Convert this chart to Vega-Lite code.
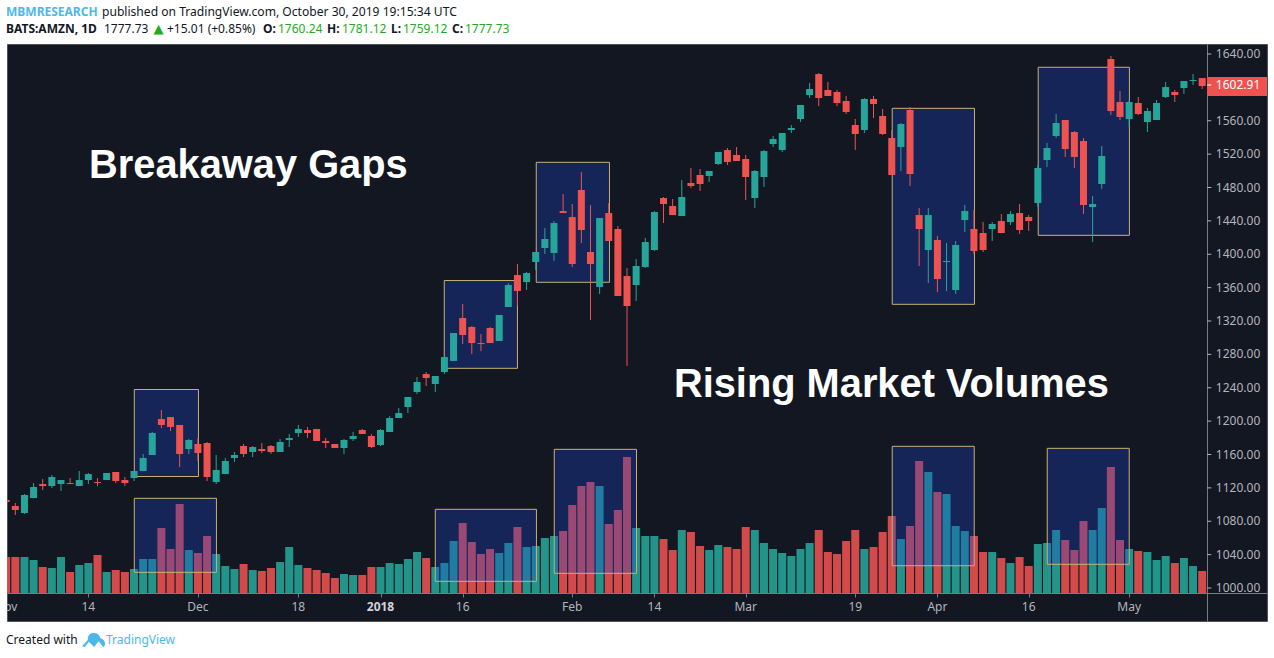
{
  "$schema": "https://vega.github.io/schema/vega-lite/v6.json",
  "width": 1260,
  "height": 577,
  "autosize": {"type": "none"},
  "padding": {"left": 7, "top": 44, "right": 7, "bottom": 37},
  "background": "#ffffff",
  "view": {"fill": "#131722", "stroke": "#50535e"},
  "config": {"scale": {"continuousPadding": 0}},
  "datasets": {
    "bars": [
      {"bar":0,"open":1105.5,"high":1105.5,"low":1103.1,"close":1103.1,"volume":3.63,"dir":"down"},
      {"bar":1,"open":1098.3,"high":1101.9,"low":1087.5,"close":1093.5,"volume":3.63,"dir":"down"},
      {"bar":2,"open":1089.9,"high":1112.7,"low":1088.7,"close":1111.5,"volume":3.63,"dir":"up"},
      {"bar":3,"open":1107.9,"high":1125.8,"low":1107.9,"close":1121.0,"volume":3.33,"dir":"up"},
      {"bar":4,"open":1124.6,"high":1130.6,"low":1117.5,"close":1122.2,"volume":2.63,"dir":"down"},
      {"bar":5,"open":1122.2,"high":1135.4,"low":1119.9,"close":1133.0,"volume":2.53,"dir":"up"},
      {"bar":6,"open":1124.6,"high":1129.4,"low":1116.3,"close":1129.4,"volume":3.63,"dir":"up"},
      {"bar":7,"open":1125.8,"high":1131.8,"low":1124.6,"close":1124.6,"volume":2.13,"dir":"down"},
      {"bar":8,"open":1122.2,"high":1140.2,"low":1122.2,"close":1129.4,"volume":2.83,"dir":"up"},
      {"bar":9,"open":1129.4,"high":1137.8,"low":1124.6,"close":1136.6,"volume":3.03,"dir":"up"},
      {"bar":10,"open":1127.0,"high":1131.8,"low":1122.2,"close":1125.8,"volume":3.83,"dir":"down"},
      {"bar":11,"open":1129.4,"high":1137.8,"low":1129.4,"close":1137.8,"volume":2.13,"dir":"up"},
      {"bar":12,"open":1139.0,"high":1139.0,"low":1125.8,"close":1128.2,"volume":2.33,"dir":"down"},
      {"bar":13,"open":1129.4,"high":1133.0,"low":1122.2,"close":1125.8,"volume":2.13,"dir":"down"},
      {"bar":14,"open":1131.8,"high":1140.2,"low":1128.2,"close":1140.2,"volume":2.43,"dir":"up"},
      {"bar":15,"open":1140.2,"high":1160.6,"low":1140.2,"close":1155.8,"volume":3.43,"dir":"up"},
      {"bar":16,"open":1159.4,"high":1187.0,"low":1159.4,"close":1185.8,"volume":3.43,"dir":"up"},
      {"bar":17,"open":1202.5,"high":1213.3,"low":1191.8,"close":1195.4,"volume":6.53,"dir":"down"},
      {"bar":18,"open":1204.9,"high":1204.9,"low":1188.2,"close":1193.0,"volume":4.43,"dir":"down"},
      {"bar":19,"open":1195.4,"high":1195.4,"low":1145.0,"close":1160.6,"volume":8.93,"dir":"down"},
      {"bar":20,"open":1166.6,"high":1178.6,"low":1160.6,"close":1177.4,"volume":4.33,"dir":"up"},
      {"bar":21,"open":1172.6,"high":1179.8,"low":1152.2,"close":1161.8,"volume":4.03,"dir":"down"},
      {"bar":22,"open":1173.8,"high":1175.0,"low":1128.2,"close":1133.0,"volume":5.73,"dir":"down"},
      {"bar":23,"open":1127.0,"high":1159.4,"low":1124.6,"close":1141.4,"volume":3.93,"dir":"up"},
      {"bar":24,"open":1136.6,"high":1155.8,"low":1136.6,"close":1152.2,"volume":2.73,"dir":"up"},
      {"bar":25,"open":1155.8,"high":1163.0,"low":1151.0,"close":1159.4,"volume":2.43,"dir":"up"},
      {"bar":26,"open":1170.2,"high":1172.6,"low":1157.0,"close":1160.6,"volume":2.93,"dir":"down"},
      {"bar":27,"open":1163.0,"high":1170.2,"low":1157.0,"close":1169.0,"volume":2.33,"dir":"up"},
      {"bar":28,"open":1166.6,"high":1173.8,"low":1161.8,"close":1164.2,"volume":2.23,"dir":"down"},
      {"bar":29,"open":1170.2,"high":1171.4,"low":1160.6,"close":1163.0,"volume":2.53,"dir":"down"},
      {"bar":30,"open":1163.0,"high":1178.6,"low":1163.0,"close":1175.0,"volume":3.13,"dir":"up"},
      {"bar":31,"open":1177.4,"high":1184.6,"low":1169.0,"close":1179.8,"volume":4.63,"dir":"up"},
      {"bar":32,"open":1185.8,"high":1195.4,"low":1181.0,"close":1190.6,"volume":2.83,"dir":"up"},
      {"bar":33,"open":1189.4,"high":1193.0,"low":1179.8,"close":1185.8,"volume":2.53,"dir":"down"},
      {"bar":34,"open":1190.6,"high":1190.6,"low":1176.2,"close":1176.2,"volume":2.33,"dir":"down"},
      {"bar":35,"open":1176.2,"high":1179.8,"low":1167.8,"close":1173.8,"volume":2.03,"dir":"down"},
      {"bar":36,"open":1172.6,"high":1172.6,"low":1167.8,"close":1167.8,"volume":1.53,"dir":"down"},
      {"bar":37,"open":1167.8,"high":1178.6,"low":1160.6,"close":1177.4,"volume":1.93,"dir":"up"},
      {"bar":38,"open":1178.6,"high":1187.0,"low":1176.2,"close":1182.2,"volume":1.83,"dir":"up"},
      {"bar":39,"open":1189.4,"high":1190.6,"low":1184.6,"close":1184.6,"volume":1.83,"dir":"down"},
      {"bar":40,"open":1182.2,"high":1184.6,"low":1167.8,"close":1169.0,"volume":2.63,"dir":"down"},
      {"bar":41,"open":1171.4,"high":1190.6,"low":1170.2,"close":1189.4,"volume":2.63,"dir":"up"},
      {"bar":42,"open":1187.0,"high":1206.1,"low":1187.0,"close":1203.7,"volume":3.03,"dir":"up"},
      {"bar":43,"open":1203.7,"high":1215.7,"low":1203.7,"close":1209.7,"volume":2.93,"dir":"up"},
      {"bar":44,"open":1216.9,"high":1228.9,"low":1209.7,"close":1228.9,"volume":3.43,"dir":"up"},
      {"bar":45,"open":1234.9,"high":1252.9,"low":1232.5,"close":1246.9,"volume":4.13,"dir":"up"},
      {"bar":46,"open":1256.5,"high":1258.9,"low":1242.1,"close":1251.7,"volume":3.53,"dir":"down"},
      {"bar":47,"open":1244.5,"high":1254.1,"low":1234.9,"close":1254.1,"volume":2.63,"dir":"up"},
      {"bar":48,"open":1258.9,"high":1276.8,"low":1256.5,"close":1276.8,"volume":3.03,"dir":"up"},
      {"bar":49,"open":1272.1,"high":1305.6,"low":1272.1,"close":1305.6,"volume":5.23,"dir":"up"},
      {"bar":50,"open":1323.6,"high":1340.4,"low":1292.4,"close":1303.2,"volume":7.03,"dir":"down"},
      {"bar":51,"open":1312.8,"high":1314.0,"low":1280.4,"close":1293.6,"volume":5.13,"dir":"down"},
      {"bar":52,"open":1293.6,"high":1304.4,"low":1284.0,"close":1292.4,"volume":3.93,"dir":"down"},
      {"bar":53,"open":1311.6,"high":1312.8,"low":1293.6,"close":1293.6,"volume":4.43,"dir":"down"},
      {"bar":54,"open":1296.0,"high":1327.2,"low":1296.0,"close":1327.2,"volume":4.03,"dir":"up"},
      {"bar":55,"open":1336.8,"high":1365.5,"low":1336.8,"close":1363.1,"volume":5.03,"dir":"up"},
      {"bar":56,"open":1375.1,"high":1388.3,"low":1338.0,"close":1356.0,"volume":6.63,"dir":"down"},
      {"bar":57,"open":1366.7,"high":1378.7,"low":1357.2,"close":1377.5,"volume":4.63,"dir":"up"},
      {"bar":58,"open":1390.7,"high":1402.7,"low":1381.1,"close":1402.7,"volume":4.73,"dir":"up"},
      {"bar":59,"open":1407.5,"high":1431.5,"low":1400.3,"close":1418.3,"volume":5.53,"dir":"up"},
      {"bar":60,"open":1401.5,"high":1439.8,"low":1391.9,"close":1437.4,"volume":5.73,"dir":"up"},
      {"bar":61,"open":1451.8,"high":1472.2,"low":1449.4,"close":1449.4,"volume":6.23,"dir":"down"},
      {"bar":62,"open":1444.6,"high":1460.2,"low":1384.7,"close":1388.3,"volume":8.83,"dir":"down"},
      {"bar":63,"open":1477.0,"high":1498.6,"low":1413.5,"close":1429.1,"volume":10.73,"dir":"down"},
      {"bar":64,"open":1402.7,"high":1459.0,"low":1321.2,"close":1388.3,"volume":11.13,"dir":"down"},
      {"bar":65,"open":1360.8,"high":1443.4,"low":1352.4,"close":1443.4,"volume":10.73,"dir":"up"},
      {"bar":66,"open":1449.4,"high":1461.4,"low":1415.9,"close":1415.9,"volume":6.93,"dir":"down"},
      {"bar":67,"open":1430.3,"high":1433.9,"low":1350.0,"close":1350.0,"volume":8.33,"dir":"down"},
      {"bar":68,"open":1373.9,"high":1383.5,"low":1266.1,"close":1338.0,"volume":13.63,"dir":"down"},
      {"bar":69,"open":1363.1,"high":1394.3,"low":1344.0,"close":1385.9,"volume":6.53,"dir":"up"},
      {"bar":70,"open":1384.7,"high":1419.5,"low":1383.5,"close":1414.7,"volume":5.73,"dir":"up"},
      {"bar":71,"open":1405.1,"high":1451.8,"low":1403.9,"close":1450.6,"volume":5.73,"dir":"up"},
      {"bar":72,"open":1467.4,"high":1468.6,"low":1437.4,"close":1460.2,"volume":5.43,"dir":"down"},
      {"bar":73,"open":1457.8,"high":1466.2,"low":1447.0,"close":1447.0,"volume":4.33,"dir":"down"},
      {"bar":74,"open":1445.8,"high":1489.0,"low":1445.8,"close":1468.6,"volume":6.33,"dir":"up"},
      {"bar":75,"open":1485.4,"high":1503.4,"low":1479.4,"close":1481.8,"volume":6.13,"dir":"down"},
      {"bar":76,"open":1495.0,"high":1502.2,"low":1475.8,"close":1484.2,"volume":4.73,"dir":"down"},
      {"bar":77,"open":1493.8,"high":1499.8,"low":1486.6,"close":1499.8,"volume":4.33,"dir":"up"},
      {"bar":78,"open":1508.2,"high":1522.5,"low":1507.0,"close":1522.5,"volume":4.83,"dir":"up"},
      {"bar":79,"open":1524.9,"high":1527.3,"low":1507.0,"close":1510.6,"volume":4.63,"dir":"down"},
      {"bar":80,"open":1519.0,"high":1528.5,"low":1511.8,"close":1511.8,"volume":4.43,"dir":"down"},
      {"bar":81,"open":1514.2,"high":1519.0,"low":1465.0,"close":1492.6,"volume":6.63,"dir":"down"},
      {"bar":82,"open":1467.4,"high":1501.0,"low":1455.4,"close":1499.8,"volume":6.33,"dir":"up"},
      {"bar":83,"open":1492.6,"high":1524.9,"low":1480.6,"close":1523.7,"volume":5.03,"dir":"up"},
      {"bar":84,"open":1532.1,"high":1541.7,"low":1528.5,"close":1538.1,"volume":4.43,"dir":"up"},
      {"bar":85,"open":1524.9,"high":1545.3,"low":1522.5,"close":1545.3,"volume":4.03,"dir":"up"},
      {"bar":86,"open":1548.9,"high":1554.9,"low":1545.3,"close":1551.3,"volume":3.73,"dir":"up"},
      {"bar":87,"open":1562.1,"high":1578.9,"low":1558.5,"close":1578.9,"volume":4.43,"dir":"up"},
      {"bar":88,"open":1590.9,"high":1605.2,"low":1587.3,"close":1598.1,"volume":5.03,"dir":"up"},
      {"bar":89,"open":1616.0,"high":1617.2,"low":1577.7,"close":1587.3,"volume":6.33,"dir":"down"},
      {"bar":90,"open":1596.9,"high":1606.4,"low":1589.7,"close":1589.7,"volume":4.13,"dir":"down"},
      {"bar":91,"open":1594.5,"high":1596.9,"low":1577.7,"close":1581.3,"volume":3.93,"dir":"down"},
      {"bar":92,"open":1583.7,"high":1589.7,"low":1568.1,"close":1570.5,"volume":5.23,"dir":"down"},
      {"bar":93,"open":1554.9,"high":1562.1,"low":1524.9,"close":1544.1,"volume":6.33,"dir":"down"},
      {"bar":94,"open":1548.9,"high":1587.3,"low":1545.3,"close":1586.1,"volume":4.43,"dir":"up"},
      {"bar":95,"open":1586.1,"high":1589.7,"low":1563.3,"close":1580.1,"volume":4.63,"dir":"down"},
      {"bar":96,"open":1565.7,"high":1574.1,"low":1542.9,"close":1544.1,"volume":6.13,"dir":"down"},
      {"bar":97,"open":1539.3,"high":1548.9,"low":1495.0,"close":1495.0,"volume":7.73,"dir":"down"},
      {"bar":98,"open":1528.5,"high":1557.3,"low":1499.8,"close":1556.1,"volume":5.43,"dir":"up"},
      {"bar":99,"open":1572.9,"high":1576.5,"low":1481.8,"close":1496.2,"volume":6.73,"dir":"down"},
      {"bar":100,"open":1447.0,"high":1455.4,"low":1385.9,"close":1430.3,"volume":13.23,"dir":"down"},
      {"bar":101,"open":1405.1,"high":1455.4,"low":1365.5,"close":1447.0,"volume":12.13,"dir":"up"},
      {"bar":102,"open":1417.1,"high":1421.9,"low":1354.8,"close":1370.3,"volume":10.13,"dir":"down"},
      {"bar":103,"open":1390.7,"high":1413.5,"low":1356.0,"close":1391.9,"volume":9.93,"dir":"up"},
      {"bar":104,"open":1357.2,"high":1415.9,"low":1352.4,"close":1411.1,"volume":6.73,"dir":"up"},
      {"bar":105,"open":1441.0,"high":1459.0,"low":1426.7,"close":1451.8,"volume":6.23,"dir":"up"},
      {"bar":106,"open":1430.3,"high":1453.0,"low":1400.3,"close":1403.9,"volume":5.73,"dir":"down"},
      {"bar":107,"open":1425.5,"high":1438.6,"low":1402.7,"close":1405.1,"volume":4.13,"dir":"down"},
      {"bar":108,"open":1430.3,"high":1438.6,"low":1415.9,"close":1436.3,"volume":4.13,"dir":"up"},
      {"bar":109,"open":1439.8,"high":1448.2,"low":1425.5,"close":1425.5,"volume":3.53,"dir":"down"},
      {"bar":110,"open":1438.6,"high":1451.8,"low":1435.1,"close":1448.2,"volume":3.03,"dir":"up"},
      {"bar":111,"open":1449.4,"high":1460.2,"low":1424.3,"close":1429.1,"volume":3.63,"dir":"down"},
      {"bar":112,"open":1444.6,"high":1447.0,"low":1427.9,"close":1439.8,"volume":2.73,"dir":"down"},
      {"bar":113,"open":1461.4,"high":1507.0,"low":1456.6,"close":1503.4,"volume":4.93,"dir":"up"},
      {"bar":114,"open":1513.0,"high":1533.3,"low":1504.6,"close":1527.3,"volume":5.03,"dir":"up"},
      {"bar":115,"open":1541.7,"high":1568.1,"low":1539.3,"close":1557.3,"volume":6.33,"dir":"up"},
      {"bar":116,"open":1560.9,"high":1560.9,"low":1516.6,"close":1526.1,"volume":5.33,"dir":"down"},
      {"bar":117,"open":1546.5,"high":1547.7,"low":1503.4,"close":1516.6,"volume":4.33,"dir":"down"},
      {"bar":118,"open":1535.7,"high":1539.3,"low":1448.2,"close":1459.0,"volume":7.23,"dir":"down"},
      {"bar":119,"open":1456.6,"high":1469.8,"low":1414.7,"close":1460.2,"volume":6.33,"dir":"up"},
      {"bar":120,"open":1484.2,"high":1529.7,"low":1478.2,"close":1517.8,"volume":8.53,"dir":"up"},
      {"bar":121,"open":1634.0,"high":1637.6,"low":1566.9,"close":1571.7,"volume":12.63,"dir":"down"},
      {"bar":122,"open":1582.5,"high":1595.7,"low":1560.9,"close":1564.5,"volume":5.33,"dir":"down"},
      {"bar":123,"open":1562.1,"high":1584.9,"low":1552.5,"close":1582.5,"volume":4.43,"dir":"up"},
      {"bar":124,"open":1581.3,"high":1588.5,"low":1566.9,"close":1568.1,"volume":4.23,"dir":"down"},
      {"bar":125,"open":1558.5,"high":1575.3,"low":1546.5,"close":1571.7,"volume":4.13,"dir":"up"},
      {"bar":126,"open":1560.9,"high":1584.9,"low":1560.9,"close":1581.3,"volume":3.33,"dir":"up"},
      {"bar":127,"open":1588.5,"high":1606.4,"low":1587.3,"close":1600.4,"volume":3.73,"dir":"up"},
      {"bar":128,"open":1594.5,"high":1596.9,"low":1582.5,"close":1590.9,"volume":3.03,"dir":"down"},
      {"bar":129,"open":1599.3,"high":1607.6,"low":1592.1,"close":1607.6,"volume":3.53,"dir":"up"},
      {"bar":130,"open":1607.6,"high":1616.0,"low":1602.8,"close":1608.8,"volume":2.73,"dir":"up"},
      {"bar":131,"open":1611.2,"high":1611.2,"low":1598.1,"close":1601.6,"volume":2.23,"dir":"down"}
    ],
    "zones": [
      {"start":14.03,"end":21.06,"top":1237.9,"bottom":1133.6},
      {"start":47.98,"end":56.0,"top":1368.5,"bottom":1263.3},
      {"start":58.06,"end":66.08,"top":1510.2,"bottom":1366.4},
      {"start":97.05,"end":106.06,"top":1574.9,"bottom":1340.0},
      {"start":113.04,"end":123.03,"top":1624.1,"bottom":1422.7},
      {"start":14.03,"end":23.03,"top":1107.5,"bottom":1018.8},
      {"start":47.0,"end":58.08,"top":1094.3,"bottom":1008.0},
      {"start":60.03,"end":69.04,"top":1166.2,"bottom":1017.6},
      {"start":97.05,"end":106.03,"top":1169.8,"bottom":1026.7},
      {"start":114.03,"end":123.01,"top":1167.4,"bottom":1028.4}
    ],
    "dates": [
      {"bar":0,"label":"Nov"},
      {"bar":9,"label":"14"},
      {"bar":21,"label":"Dec"},
      {"bar":32,"label":"18"},
      {"bar":50,"label":"16"},
      {"bar":62,"label":"Feb"},
      {"bar":71,"label":"14"},
      {"bar":81,"label":"Mar"},
      {"bar":93,"label":"19"},
      {"bar":102,"label":"Apr"},
      {"bar":112,"label":"16"},
      {"bar":123,"label":"May"}
    ],
    "levels": [
      {"price":1000},{"price":1040},{"price":1080},{"price":1120},{"price":1160},{"price":1200},
      {"price":1240},{"price":1280},{"price":1320},{"price":1360},{"price":1400},{"price":1440},
      {"price":1480},{"price":1520},{"price":1560},{"price":1600},{"price":1640}
    ]
  },
  "layer": [
    {
      "data": {"name": "bars"},
      "mark": {"type": "bar", "size": 8, "opacity": 0.87, "clip": true},
      "encoding": {
        "x": {
          "field": "bar",
          "type": "quantitative",
          "scale": {"domain": [0.088, 138.1], "nice": false, "zero": false, "padding": 0},
          "axis": {
            "orient": "bottom",
            "offset": -28,
            "values": [9, 21, 32, 41, 50, 62, 71, 81, 93, 102, 112, 123],
            "labels": false,
            "grid": false,
            "title": null,
            "tickSize": 4,
            "tickColor": "#787b86",
            "domainColor": "#787b86",
            "zindex": 1
          }
        },
        "y": {
          "field": "volume",
          "type": "quantitative",
          "stack": null,
          "scale": {"domain": [-2.77, 54.93], "nice": false, "zero": false},
          "axis": null
        },
        "y2": {"datum": 0},
        "color": {
          "field": "dir",
          "type": "nominal",
          "scale": {"domain": ["up", "down"], "range": ["#26a69a", "#ef5350"]},
          "legend": null
        }
      }
    },
    {
      "layer": [
        {
          "data": {"name": "zones"},
          "mark": {"type": "rect", "fill": "#1a46d8", "fillOpacity": 0.3, "stroke": "#c8b273", "strokeWidth": 1},
          "encoding": {
            "x": {"field": "start", "type": "quantitative", "title": null},
            "x2": {"field": "end"},
            "y": {
              "field": "top",
              "type": "quantitative",
              "scale": {"domain": [960.45, 1652], "nice": false, "zero": false},
              "axis": {
                "orient": "right",
                "offset": -60,
                "values": [1000, 1640],
                "labels": false,
                "ticks": false,
                "grid": false,
                "title": null,
                "domainColor": "#787b86"
              }
            },
            "y2": {"field": "bottom"}
          }
        },
        {
          "data": {"name": "levels"},
          "mark": {"type": "rule", "color": "#b2b5be", "strokeWidth": 1},
          "encoding": {
            "x": {"datum": 131.55},
            "x2": {"datum": 132.0},
            "y": {"field": "price", "type": "quantitative"}
          }
        },
        {
          "data": {"name": "levels"},
          "mark": {"type": "text", "align": "left", "baseline": "middle", "color": "#b2b5be", "font": "Noto Sans", "fontSize": 12},
          "encoding": {
            "x": {"datum": 132.5},
            "y": {"field": "price", "type": "quantitative"},
            "text": {"field": "price", "type": "quantitative", "format": ".2f"}
          }
        },
        {
          "data": {"name": "bars"},
          "mark": {"type": "rule", "strokeWidth": 1, "clip": true},
          "encoding": {
            "x": {"field": "bar", "type": "quantitative"},
            "y": {"field": "high", "type": "quantitative"},
            "y2": {"field": "low"},
            "color": {"field": "dir", "type": "nominal", "legend": null}
          }
        },
        {
          "data": {"name": "bars"},
          "mark": {"type": "bar", "size": 7, "clip": true},
          "encoding": {
            "x": {"field": "bar", "type": "quantitative"},
            "y": {"field": "open", "type": "quantitative", "stack": null},
            "y2": {"field": "close"},
            "color": {"field": "dir", "type": "nominal", "legend": null}
          }
        },
        {
          "data": {"values": [{"price": 1602.91}]},
          "mark": {"type": "rect", "fill": "#ef5350"},
          "encoding": {
            "x": {"datum": 131.55},
            "x2": {"datum": 138.1},
            "y": {"datum": 1612.4},
            "y2": {"datum": 1589.7}
          }
        },
        {
          "data": {"values": [{"price": 1602.91}]},
          "mark": {"type": "rule", "color": "#ffffff", "strokeWidth": 1},
          "encoding": {
            "x": {"datum": 131.55},
            "x2": {"datum": 132.0},
            "y": {"field": "price", "type": "quantitative"}
          }
        },
        {
          "data": {"values": [{"price": 1602.91}]},
          "mark": {"type": "text", "align": "left", "baseline": "middle", "color": "#ffffff", "font": "Noto Sans", "fontSize": 12},
          "encoding": {
            "x": {"datum": 132.5},
            "y": {"field": "price", "type": "quantitative"},
            "text": {"field": "price", "type": "quantitative", "format": ".2f"}
          }
        },
        {
          "data": {"name": "dates"},
          "mark": {"type": "text", "baseline": "middle", "color": "#b2b5be", "font": "Noto Sans", "fontSize": 12, "clip": true},
          "encoding": {
            "x": {"field": "bar", "type": "quantitative"},
            "y": {"datum": 977.2},
            "text": {"field": "label"}
          }
        },
        {
          "data": {"values": [{"label": "2018"}]},
          "mark": {"type": "text", "baseline": "middle", "color": "#d1d4dc", "font": "Noto Sans", "fontWeight": "bold", "fontSize": 12},
          "encoding": {"x": {"datum": 41}, "y": {"datum": 977.2}, "text": {"field": "label"}}
        },
        {
          "data": {"values": [{"label": "Breakaway Gaps"}]},
          "mark": {"type": "text", "align": "left", "baseline": "middle", "color": "#ffffff", "font": "Liberation Sans", "fontWeight": "bold", "fontSize": 39.8},
          "encoding": {"x": {"datum": 9.08}, "y": {"datum": 1505.8}, "text": {"field": "label"}}
        },
        {
          "data": {"values": [{"label": "Rising Market Volumes"}]},
          "mark": {"type": "text", "align": "left", "baseline": "middle", "color": "#ffffff", "font": "Liberation Sans", "fontWeight": "bold", "fontSize": 39.8},
          "encoding": {"x": {"datum": 73.14}, "y": {"datum": 1243.3}, "text": {"field": "label"}}
        },
        {
          "data": {"values": [{"label": "MBMRESEARCH"}]},
          "mark": {"type": "text", "align": "left", "baseline": "middle", "color": "#4db8e8", "font": "Noto Sans", "fontWeight": "bold", "fontSize": 12},
          "encoding": {"x": {"datum": -0.02}, "y": {"datum": 1690.3}, "text": {"field": "label"}}
        },
        {
          "data": {"values": [{"label": "published on TradingView.com, October 30, 2019 19:15:34 UTC"}]},
          "mark": {"type": "text", "align": "left", "baseline": "middle", "color": "#131722", "font": "Noto Sans", "fontSize": 12.1},
          "encoding": {"x": {"datum": 10.49}, "y": {"datum": 1690.3}, "text": {"field": "label"}}
        },
        {
          "data": {"values": [{"label": "BATS:AMZN, 1D"}]},
          "mark": {"type": "text", "align": "left", "baseline": "middle", "color": "#131722", "font": "Noto Sans", "fontWeight": "bold", "fontSize": 12},
          "encoding": {"x": {"datum": -0.02}, "y": {"datum": 1670}, "text": {"field": "label"}}
        },
        {
          "data": {"values": [{"label": "1777.73"}]},
          "mark": {"type": "text", "align": "left", "baseline": "middle", "color": "#131722", "font": "Noto Sans", "fontSize": 12},
          "encoding": {"x": {"datum": 10.71}, "y": {"datum": 1670}, "text": {"field": "label"}}
        },
        {
          "data": {"values": [{"label": "▲"}]},
          "mark": {"type": "text", "baseline": "middle", "color": "#22ab22", "font": "DejaVu Sans", "fontSize": 13},
          "encoding": {"x": {"datum": 16.68}, "y": {"datum": 1670}, "text": {"field": "label"}}
        },
        {
          "data": {"values": [{"label": "+15.01 (+0.85%)"}]},
          "mark": {"type": "text", "align": "left", "baseline": "middle", "color": "#131722", "font": "Noto Sans", "fontSize": 12},
          "encoding": {"x": {"datum": 17.61}, "y": {"datum": 1670}, "text": {"field": "label"}}
        },
        {
          "data": {"values": [{"label": "O:"}]},
          "mark": {"type": "text", "align": "left", "baseline": "middle", "color": "#131722", "font": "Noto Sans", "fontWeight": "bold", "fontSize": 12},
          "encoding": {"x": {"datum": 28.13}, "y": {"datum": 1670}, "text": {"field": "label"}}
        },
        {
          "data": {"values": [{"label": "1760.24"}]},
          "mark": {"type": "text", "align": "left", "baseline": "middle", "color": "#22ab22", "font": "Noto Sans", "fontSize": 12},
          "encoding": {"x": {"datum": 29.77}, "y": {"datum": 1670}, "text": {"field": "label"}}
        },
        {
          "data": {"values": [{"label": "H:"}]},
          "mark": {"type": "text", "align": "left", "baseline": "middle", "color": "#131722", "font": "Noto Sans", "fontWeight": "bold", "fontSize": 12},
          "encoding": {"x": {"datum": 35.14}, "y": {"datum": 1670}, "text": {"field": "label"}}
        },
        {
          "data": {"values": [{"label": "1781.12"}]},
          "mark": {"type": "text", "align": "left", "baseline": "middle", "color": "#22ab22", "font": "Noto Sans", "fontSize": 12},
          "encoding": {"x": {"datum": 36.78}, "y": {"datum": 1670}, "text": {"field": "label"}}
        },
        {
          "data": {"values": [{"label": "L:"}]},
          "mark": {"type": "text", "align": "left", "baseline": "middle", "color": "#131722", "font": "Noto Sans", "fontWeight": "bold", "fontSize": 12},
          "encoding": {"x": {"datum": 42.15}, "y": {"datum": 1670}, "text": {"field": "label"}}
        },
        {
          "data": {"values": [{"label": "1759.12"}]},
          "mark": {"type": "text", "align": "left", "baseline": "middle", "color": "#22ab22", "font": "Noto Sans", "fontSize": 12},
          "encoding": {"x": {"datum": 43.46}, "y": {"datum": 1670}, "text": {"field": "label"}}
        },
        {
          "data": {"values": [{"label": "C:"}]},
          "mark": {"type": "text", "align": "left", "baseline": "middle", "color": "#131722", "font": "Noto Sans", "fontWeight": "bold", "fontSize": 12},
          "encoding": {"x": {"datum": 48.83}, "y": {"datum": 1670}, "text": {"field": "label"}}
        },
        {
          "data": {"values": [{"label": "1777.73"}]},
          "mark": {"type": "text", "align": "left", "baseline": "middle", "color": "#22ab22", "font": "Noto Sans", "fontSize": 12},
          "encoding": {"x": {"datum": 50.25}, "y": {"datum": 1670}, "text": {"field": "label"}}
        },
        {
          "data": {"values": [{"label": "Created with"}]},
          "mark": {"type": "text", "align": "left", "baseline": "middle", "color": "#131722", "font": "Noto Sans", "fontSize": 12},
          "encoding": {"x": {"datum": -0.02}, "y": {"datum": 937.7}, "text": {"field": "label"}}
        },
        {
          "data": {"values": [{"label": "TradingView"}]},
          "mark": {"type": "text", "align": "left", "baseline": "middle", "color": "#4db8e8", "font": "Noto Sans", "fontSize": 12},
          "encoding": {"x": {"datum": 10.93}, "y": {"datum": 937.7}, "text": {"field": "label"}}
        },
        {
          "data": {"values": [{"label": "logo"}]},
          "mark": {
            "type": "point",
            "filled": true,
            "opacity": 1,
            "size": 529,
            "color": "#4db8e8",
            "shape": "M-1,0.55 L-0.5,0 C-0.5,-0.5 -0.2,-0.65 0.05,-0.6 C0.4,-0.6 0.55,-0.35 0.6,-0.15 C0.85,-0.1 1,0.1 1,0.3 C1,0.45 0.95,0.55 0.85,0.6 L0.45,0.1 L0.05,0.6 L-0.4,0.15 L-0.75,0.6 Z"
          },
          "encoding": {"x": {"datum": 9.56}, "y": {"datum": 937.7}}
        }
      ]
    }
  ],
  "resolve": {"scale": {"y": "independent"}}
}
